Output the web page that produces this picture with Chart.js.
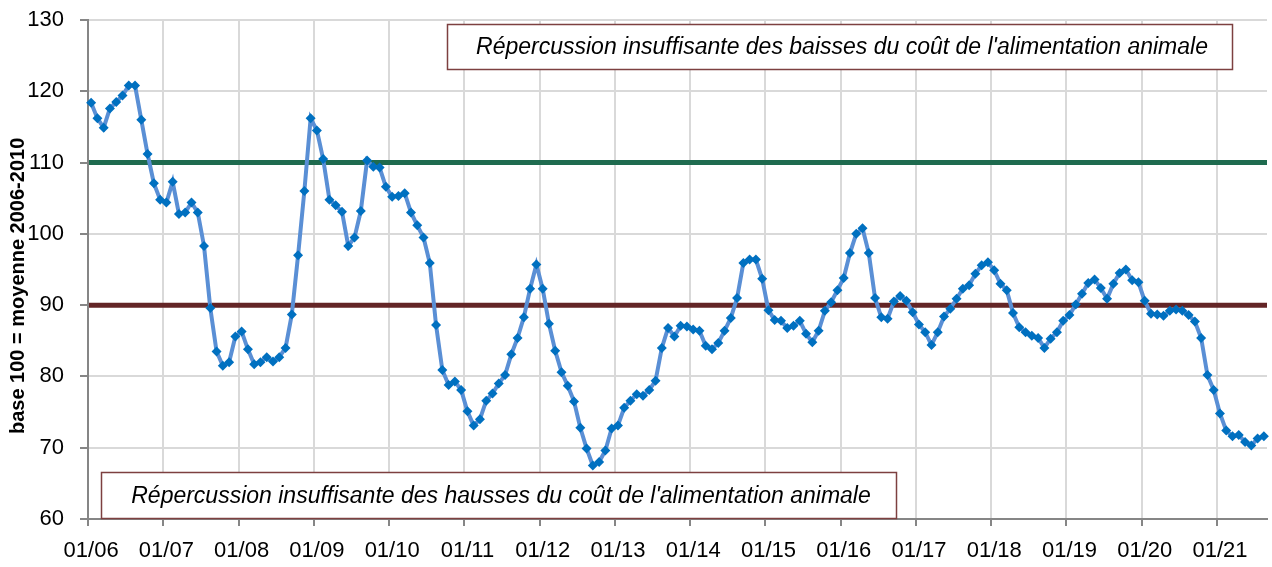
<!DOCTYPE html>
<html>
<head>
<meta charset="utf-8">
<script src="https://cdn.jsdelivr.net/npm/chart.js@4/dist/chart.umd.min.js"></script>
<style>
  html, body { margin: 0; padding: 0; background: #fff; }
  #wrap { width: 1272px; height: 567px; position: relative; }
</style>
</head>
<body>
<div id="wrap"><canvas id="chart"></canvas></div>
<script>
// monthly index, base 100 = moyenne 2006-2010
const v2006 = [118.4, 116.2, 114.9, 117.6, 118.5, 119.4, 120.8, 120.8, 116.0, 111.2, 107.1, 104.8];
const v2007 = [104.4, 107.3, 102.8, 103.0, 104.4, 103.0, 98.3, 89.6, 83.5, 81.5, 82.0, 85.6];
const v2008 = [86.3, 83.8, 81.7, 82.0, 82.7, 82.1, 82.7, 84.0, 88.7, 97.0, 106.0, 116.2];
const v2009 = [114.5, 110.5, 104.8, 104.0, 103.1, 98.3, 99.5, 103.2, 110.3, 109.4, 109.3, 106.6];
const v2010 = [105.2, 105.3, 105.7, 103.0, 101.2, 99.5, 95.9, 87.2, 80.9, 78.8, 79.3, 78.1];
const v2011 = [75.1, 73.1, 74.0, 76.6, 77.6, 79.0, 80.2, 83.1, 85.4, 88.3, 92.3, 95.7];
const v2012 = [92.3, 87.4, 83.6, 80.6, 78.7, 76.5, 72.8, 69.9, 67.5, 68.0, 69.6, 72.7];
const v2013 = [73.1, 75.6, 76.6, 77.5, 77.3, 78.1, 79.4, 84.0, 86.8, 85.6, 87.1, 87.0];
const v2014 = [86.6, 86.4, 84.3, 83.8, 84.7, 86.4, 88.2, 91.0, 95.9, 96.4, 96.4, 93.7];
const v2015 = [89.3, 87.9, 87.8, 86.8, 87.1, 87.8, 86.0, 84.8, 86.4, 89.2, 90.4, 92.1];
const v2016 = [93.8, 97.3, 100.0, 100.8, 97.3, 91.0, 88.3, 88.1, 90.5, 91.3, 90.6, 89.0];
const v2017 = [87.3, 86.2, 84.4, 86.2, 88.4, 89.5, 90.9, 92.3, 92.8, 94.4, 95.6, 96.0];
const v2018 = [94.9, 93.0, 92.1, 88.9, 86.9, 86.2, 85.7, 85.4, 84.0, 85.3, 86.2, 87.8];
const v2019 = [88.6, 90.1, 91.6, 93.1, 93.6, 92.4, 90.9, 93.0, 94.5, 95.0, 93.5, 93.2];
const v2020 = [90.6, 88.8, 88.7, 88.5, 89.2, 89.4, 89.2, 88.6, 87.7, 85.4, 80.2, 78.1];
const v2021 = [74.8, 72.4, 71.6, 71.8, 70.8, 70.3, 71.3, 71.6];

const years = ['06','07','08','09','10','11','12','13','14','15','16','17','18','19','20','21'];
const yTicks = [60, 70, 80, 90, 100, 110, 120, 130];
const thresholds = [110, 90];
const yTitle = 'base 100 = moyenne 2006-2010';
const boxTexts = [
  "Répercussion insuffisante des baisses du coût de l'alimentation animale",
  "Répercussion insuffisante des hausses du coût de l'alimentation animale"
];

const values = [].concat(v2006, v2007, v2008, v2009, v2010, v2011, v2012, v2013,
  v2014, v2015, v2016, v2017, v2018, v2019, v2020, v2021);
const labels = [];
years.forEach(function(y) {
  for (let m = 1; m <= 12; m++) labels.push((m < 10 ? '0' + m : '' + m) + '/' + y);
});
labels.length = values.length;

const lineColors = ['#1f6b4f', '#632526'];
const FONT = '"Liberation Sans", Arial, sans-serif';

// year gridlines, threshold lines, axis title and the two text boxes
const decor = {
  id: 'decor',
  beforeDatasetsDraw(chart) {
    const ctx = chart.ctx, a = chart.chartArea, xs = chart.scales.x, ys = chart.scales.y;
    ctx.save();
    for (let i = 12; i < values.length; i += 12) {
      const px = Math.round(xs.getPixelForValue(i - 0.5));
      ctx.strokeStyle = '#d9d9d9';
      ctx.lineWidth = 2;
      ctx.beginPath();
      ctx.moveTo(px, a.top);
      ctx.lineTo(px, a.bottom - 1);
      ctx.stroke();
    }
    for (let i = 0; i < values.length; i += 12) {
      const px = Math.round(xs.getPixelForValue(i - 0.5));
      ctx.strokeStyle = '#868686';
      ctx.lineWidth = 2;
      ctx.beginPath();
      ctx.moveTo(px, a.bottom);
      ctx.lineTo(px, a.bottom + 7);
      ctx.stroke();
    }
    thresholds.forEach(function(t, i) {
      const py = ys.getPixelForValue(t);
      ctx.strokeStyle = lineColors[i];
      ctx.lineWidth = 5;
      ctx.beginPath();
      ctx.moveTo(a.left + 1, py);
      ctx.lineTo(a.right, py);
      ctx.stroke();
    });
    // y axis title, placed as in the original
    ctx.translate(18, ys.getPixelForValue(92.7));
    ctx.rotate(-Math.PI / 2);
    ctx.fillStyle = '#000';
    ctx.font = 'bold 20px ' + FONT;
    ctx.textAlign = 'center';
    ctx.textBaseline = 'middle';
    ctx.fillText(yTitle, 0, 0);
    ctx.restore();
  },
  afterDatasetsDraw(chart) {
    const ctx = chart.ctx, xs = chart.scales.x, ys = chart.scales.y;
    const boxes = [
      {x0: 56.8, x1: 181.9, y0: 129.4, y1: 123.1},
      {x0: 1.6, x1: 128.4, y0: 66.6, y1: 60.2}
    ];
    ctx.save();
    boxes.forEach(function(b, i) {
      const l = Math.round(xs.getPixelForValue(b.x0)) + 0.5;
      const r = Math.round(xs.getPixelForValue(b.x1)) + 0.5;
      const t = Math.round(ys.getPixelForValue(b.y0)) + 0.5;
      const bt = Math.round(ys.getPixelForValue(b.y1)) + 0.5;
      ctx.fillStyle = '#fff';
      ctx.fillRect(l, t, r - l, bt - t);
      ctx.strokeStyle = '#7d4040';
      ctx.lineWidth = 1.5;
      ctx.strokeRect(l, t, r - l, bt - t);
      ctx.fillStyle = '#000';
      ctx.font = 'italic 23px ' + FONT;
      ctx.textAlign = 'center';
      ctx.textBaseline = 'middle';
      ctx.fillText(boxTexts[i], (l + r) / 2 + 2, (t + bt) / 2 + 1);
    });
    ctx.restore();
  }
};

new Chart(document.getElementById('chart').getContext('2d'), {
  type: 'line',
  data: {
    labels: labels,
    datasets: [{
      data: values,
      borderColor: '#5a8fd5',
      borderWidth: 4,
      tension: 0,
      pointStyle: 'rectRot',
      pointRadius: 5,
      pointBorderWidth: 0,
      pointBackgroundColor: '#0070c0',
      pointBorderColor: '#0070c0'
    }]
  },
  options: {
    responsive: true,
    maintainAspectRatio: false,
    animation: false,
    layout: {padding: {top: 20, right: 0, left: 0, bottom: 0}},
    plugins: {legend: {display: false}, tooltip: {enabled: false}},
    scales: {
      x: {
        type: 'category',
        offset: true,
        afterFit(s) { s.height = 48; s.paddingLeft = 0; s.paddingRight = 0; },
        border: {color: '#868686', width: 2},
        grid: {display: false, drawTicks: false, tickLength: 7},
        ticks: {
          autoSkip: false,
          maxRotation: 0,
          padding: 19,
          color: '#000',
          font: {family: FONT, size: 22},
          callback: function(val, i) { return i % 12 === 0 ? this.getLabelForValue(val) : null; }
        }
      },
      y: {
        min: 60,
        max: 130,
        afterFit(s) { s.width = 88; s.paddingTop = 0; s.paddingBottom = 0; },
        afterBuildTicks(s) { s.ticks = yTicks.map(function(v) { return {value: v}; }); },
        border: {color: '#868686', width: 2},
        grid: {color: '#d9d9d9', lineWidth: 2, tickLength: 8, tickColor: '#868686'},
        ticks: {
          padding: 16,
          color: '#000',
          font: {family: FONT, size: 22}
        }
      }
    }
  },
  plugins: [decor]
});
</script>
</body>
</html>
